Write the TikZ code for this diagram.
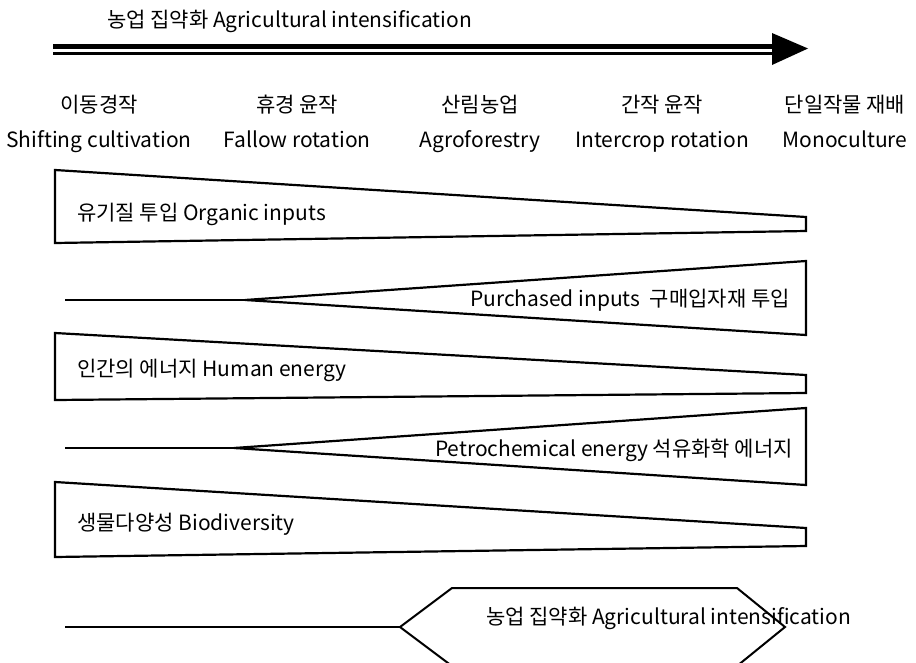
\documentclass[tikz,border=0pt]{standalone}
\usepackage{fontspec}
\setmainfont{Noto Sans CJK KR}

\tikzset{
  lbl/.style = {inner sep = 0pt, text height = 0.8em, text depth = 0.22em,
    font = \fontsize{21}{24}\selectfont},
  wedge/.style = {draw, line width = 2.2pt, line join = miter},
  stem/.style = {line width = 2pt},
}

\begin{document}
\begin{tikzpicture}[x = 1pt, y = -1pt]
  \useasboundingbox (0, 0) rectangle (916, 662);
  \clip (0, 0) rectangle (916, 662);

  % Intensification arrow
  \node[lbl, anchor = west] (title) at (107, 25) {농업 집약화 Agricultural intensification};
  \coordinate (a0) at (53, 46.5);
  \coordinate (a1) at (774, 46.5);
  \coordinate (b0) at (53, 53.5);
  \coordinate (b1) at (774, 53.5);
  \draw[line width = 5pt] (a0) -- (a1);
  \draw[line width = 2.6pt] (b0) -- (b1);
  \fill (772, 33) -- (808, 48.5) -- (772, 65) -- cycle;

  % Farming systems
  \node[lbl] (s1) at (99, 110) {이동경작};
  \node[lbl] (s2) at (297, 110) {휴경 윤작};
  \node[lbl] (s3) at (480, 110) {산림농업};
  \node[lbl] (s4) at (662, 110) {간작 윤작};
  \node[lbl] (s5) at (845, 110) {단일작물 재배};
  \node[lbl] (e1) at (99, 145) {Shifting cultivation};
  \node[lbl] (e2) at (297, 145) {Fallow rotation};
  \node[lbl] (e3) at (480, 145) {Agroforestry};
  \node[lbl] (e4) at (662, 145) {Intercrop rotation};
  \node[lbl] (e5) at (845, 145) {Monoculture};

  % Decreasing wedges
  \draw[wedge] (55, 170) -- (806, 217) -- (806, 231) -- (55, 243) -- cycle;
  \node[lbl, anchor = west] (organic) at (77, 218) {유기질 투입 Organic inputs};

  \draw[wedge] (55, 333) -- (806, 375) -- (806, 393) -- (55, 400) -- cycle;
  \node[lbl, anchor = west] (human) at (77, 374) {인간의 에너지 Human energy};

  \draw[wedge] (55, 482) -- (806, 528) -- (806, 546) -- (55, 557) -- cycle;
  \node[lbl, anchor = west] (bio) at (77, 528) {생물다양성 Biodiversity};

  % Increasing wedges
  \coordinate (p0) at (65, 300);
  \coordinate (p1) at (245, 300);
  \draw[stem] (p0) -- (p1);
  \draw[wedge] (p1) -- (806, 261) -- (806, 335) -- cycle;
  \node[lbl, anchor = east] (purchased) at (790, 304) {Purchased inputs\ \ 구매입자재 투입};

  \coordinate (q0) at (65, 448);
  \coordinate (q1) at (234, 448);
  \draw[stem] (q0) -- (q1);
  \draw[wedge] (q1) -- (806, 408) -- (806, 485) -- cycle;
  \node[lbl, anchor = east] (petro) at (793, 454) {Petrochemical energy 석유화학 에너지};

  % Intensification hexagon
  \coordinate (h0) at (65, 627);
  \coordinate (h1) at (400, 627);
  \draw[stem] (h0) -- (h1);
  \draw[wedge, line width = 2pt] (h1) -- (452, 588) -- (737, 588) -- (785, 627)
    -- (737, 666) -- (452, 666) -- cycle;
  \node[lbl, anchor = west] (hex) at (486, 622) {농업 집약화 Agricultural intensification};
\end{tikzpicture}
\end{document}
